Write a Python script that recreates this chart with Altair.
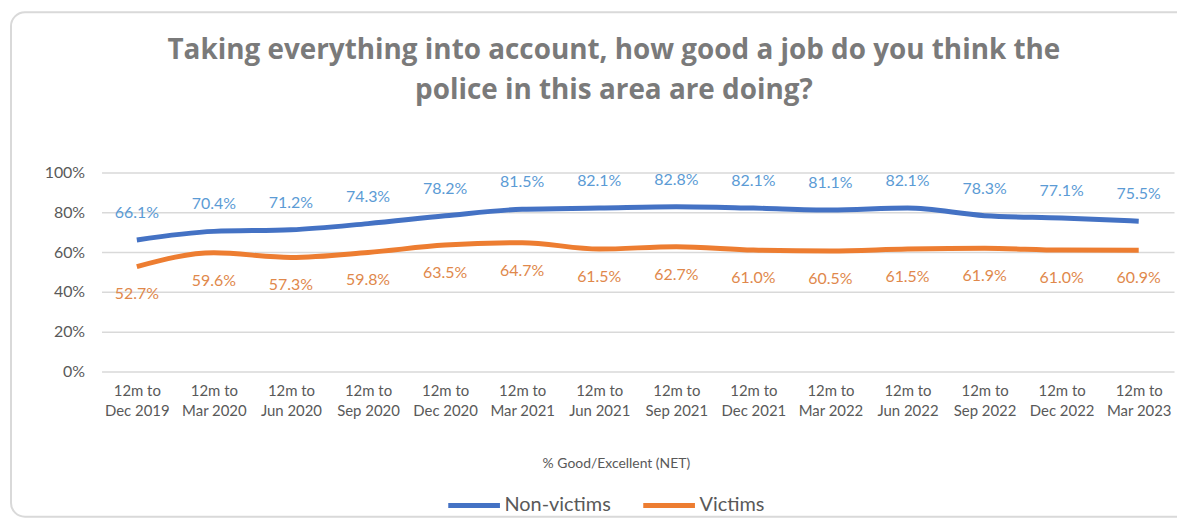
import altair as alt
import pandas as pd

categories = ["12m to|Dec 2019", "12m  to|Mar 2020", "12m to|Jun 2020", "12m to|Sep 2020",
              "12m to|Dec 2020", "12m to|Mar 2021", "12m to|Jun 2021", "12m to|Sep 2021",
              "12m to|Dec 2021", "12m to|Mar 2022", "12m to|Jun 2022", "12m to|Sep 2022",
              "12m to|Dec 2022", "12m to|Mar 2023"]
non_victims = [66.1, 70.4, 71.2, 74.3, 78.2, 81.5, 82.1, 82.8, 82.1, 81.1, 82.1, 78.3, 77.1, 75.5]
victims = [52.7, 59.6, 57.3, 59.8, 63.5, 64.7, 61.5, 62.7, 61.0, 60.5, 61.5, 61.9, 61.0, 60.9]
series = ["Non-victims", "Victims"]
title_lines = ["Taking everything into account, how good a job do you think the",
               "police in this area are doing?"]
y_ticks = [0, 0.2, 0.4, 0.6, 0.8, 1.0]

rows = []
for i, c in enumerate(categories):
    rows.append({"period": c, "series": series[0], "value": non_victims[i] / 100})
    rows.append({"period": c, "series": series[1], "value": victims[i] / 100})
df = pd.DataFrame(rows)

FONT = "Lato"
GRAY = "#595959"
W, H = 1078, 200

xenc = alt.X("period:N", sort=categories,
             scale=alt.Scale(type="point", padding=0.458),
             axis=alt.Axis(title="% Good/Excellent (NET)", labelAngle=0,
                           labelExpr="split(datum.label, '|')",
                           labelFont=FONT, labelFontSize=15, labelColor=GRAY,
                           labelLineHeight=20, labelPadding=12,
                           domain=False, ticks=False, grid=False,
                           titleFont=FONT, titleFontSize=14, titleColor=GRAY,
                           titleFontWeight="normal", titleX=517, titleY=93,
                           titleBaseline="middle"))
yenc = alt.Y("value:Q", scale=alt.Scale(domain=[0, 1], nice=False),
             axis=alt.Axis(title=None, format=".0%", values=y_ticks,
                           labelOverlap=False,
                           labelFont=FONT, labelFontSize=16, labelColor=GRAY,
                           labelPadding=17, domain=False, ticks=False,
                           gridColor="#d9d9d9", gridWidth=1.5))
color = alt.Color("series:N", sort=series,
                  scale=alt.Scale(domain=series, range=["#4472C4", "#ED7D31"]),
                  legend=alt.Legend(title=None, orient="none", legendX=346, legendY=306,
                                    direction="horizontal", symbolType="stroke",
                                    symbolSize=2700, symbolStrokeWidth=5,
                                    labelFont=FONT, labelFontSize=20, labelColor=GRAY,
                                    columnPadding=22, labelOffset=2))

border = alt.Chart(pd.DataFrame({"a": [0]})).mark_rect(
    fill=None, stroke="#d9d9d9", strokeWidth=2, cornerRadius=14, clip=False
).encode(x=alt.value(-91), x2=alt.value(1100), y=alt.value(-161), y2=alt.value(346))

tdf = pd.DataFrame({"t": title_lines, "i": [0, 1]})
title1 = alt.Chart(tdf).transform_filter(alt.datum.i == 0).mark_text(
    font="Open Sans", fontSize=28, fontWeight="bold", color="#7a7a7a", align="center",
    baseline="middle").encode(x=alt.value(515), y=alt.value(-122), text="t:N")
title2 = alt.Chart(tdf).transform_filter(alt.datum.i == 1).mark_text(
    font="Open Sans", fontSize=28, fontWeight="bold", color="#7a7a7a", align="center",
    baseline="middle").encode(x=alt.value(515), y=alt.value(-82), text="t:N")

base = alt.Chart(df)
lines = base.mark_line(strokeWidth=5, interpolate="monotone").encode(x=xenc, y=yenc, color=color)

lab_top = base.transform_filter(alt.datum.series == "Non-victims").transform_calculate(
    lab=alt.expr.format(alt.datum.value, ".1%")
).mark_text(font=FONT, fontSize=16, dy=-27, color="#5B9BD5").encode(
    x=xenc, y=yenc, text="lab:N")
lab_bot = base.transform_filter(alt.datum.series == "Victims").transform_calculate(
    lab=alt.expr.format(alt.datum.value, ".1%")
).mark_text(font=FONT, fontSize=16, dy=28, color="#E0884B").encode(
    x=xenc, y=yenc, text="lab:N")

chart = alt.layer(border, title1, title2, lines, lab_top, lab_bot).properties(
    width=W, height=H,
    autosize=alt.AutoSizeParams(type="none"),
    padding={"left": 94, "top": 164, "right": 3, "bottom": 148},
).configure(background="white").configure_view(stroke=None)

chart.save("out.html", embed_options={"renderer": "svg", "actions": False})
